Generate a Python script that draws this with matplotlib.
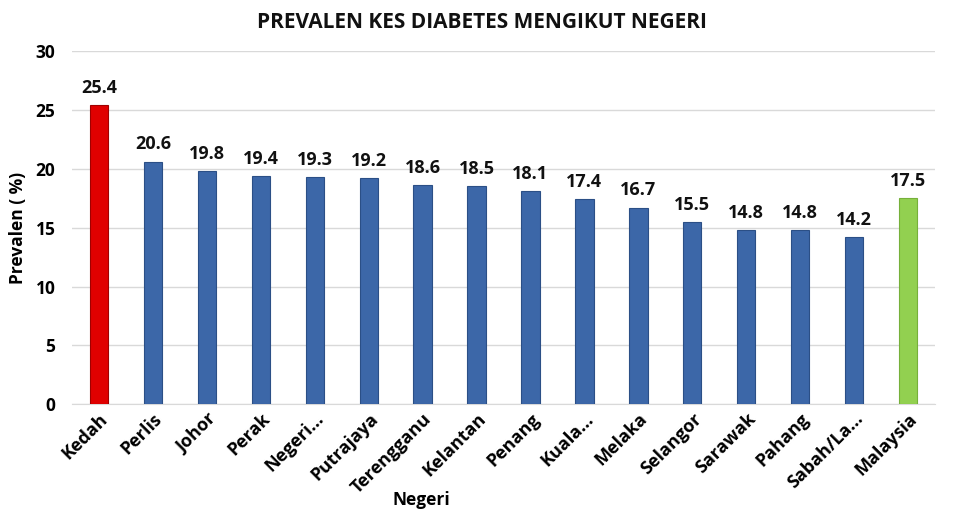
import matplotlib
matplotlib.use("Agg")
import matplotlib.pyplot as plt

states = ["Kedah", "Perlis", "Johor", "Perak", "Negeri...", "Putrajaya", "Terengganu",
          "Kelantan", "Penang", "Kuala...", "Melaka", "Selangor", "Sarawak", "Pahang",
          "Sabah/La...", "Malaysia"]
prevalence = [25.4, 20.6, 19.8, 19.4, 19.3, 19.2, 18.6, 18.5, 18.1, 17.4, 16.7, 15.5,
              14.8, 14.8, 14.2, 17.5]
yticks = [0, 5, 10, 15, 20, 25, 30]

plt.rcParams['font.family'] = ['Open Sans', 'DejaVu Sans']

colors = ["#3C67A8"] * len(states)
colors[0] = "#E00000"
colors[-1] = "#92D050"
edges = ["#2B4F86"] * len(states)
edges[0] = "#A00000"
edges[-1] = "#76B03A"

fig = plt.figure(figsize=(9.6, 5.11), dpi=100)
ax = fig.add_axes([0.075, 0.209, 0.899, 0.691])

x = list(range(len(states)))
bars = ax.bar(x, prevalence, width=0.34, color=colors, edgecolor=edges, linewidth=0.8, zorder=3)
for xi, v in zip(x, prevalence):
    ax.text(xi, v + 0.7, f"{v:.1f}", ha="center", va="bottom", fontsize=13,
            fontweight="bold", color="#111111")

ax.set_xlim(-0.5, len(states) - 0.5)
ax.set_ylim(0, 30)
ax.set_yticks(yticks)
ax.set_yticklabels([str(t) for t in yticks], fontsize=12.5, fontweight="bold")
ax.set_xticks(x)
ax.set_xticklabels(states, rotation=45, ha="right", rotation_mode="anchor",
                   fontsize=13, fontweight="bold")
ax.tick_params(axis="y", length=0, pad=12)
ax.tick_params(axis="x", length=0, pad=4)
ax.grid(axis="y", color="#D9D9D9", linewidth=1, zorder=0)
for s in ["top", "right", "left"]:
    ax.spines[s].set_visible(False)
ax.spines["bottom"].set_color("#D9D9D9")

ax.set_ylabel("Prevalen ( %)", fontsize=12.5, fontweight="bold")
ax.yaxis.set_label_coords(-0.052, 0.5)
ax.set_xlabel("Negeri", fontsize=12.5, fontweight="bold")
ax.xaxis.set_label_coords(0.405, -0.245)

fig.text(0.502, 0.955, "PREVALEN KES DIABETES MENGIKUT NEGERI", ha="center", va="center",
         fontsize=15, fontweight="bold", color="#111111")

fig.savefig("out.png", dpi=100, facecolor="white")
